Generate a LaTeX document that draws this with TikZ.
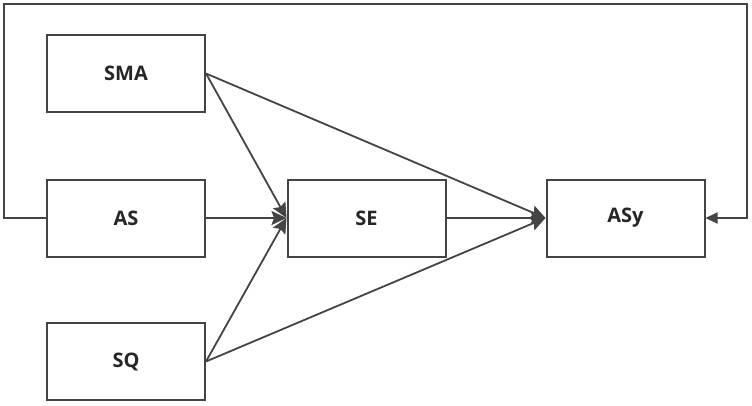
\documentclass[tikz,border=0pt]{standalone}
\usepackage{fontspec}
\setmainfont{Open Sans}
\usetikzlibrary{arrows.meta}
\definecolor{ln}{RGB}{68,68,68}
\begin{document}
\begin{tikzpicture}[x=1pt,y=-1pt,
  blk/.style={draw=ln,line width=2pt,fill=white,minimum width=158pt,minimum height=77pt,inner sep=0pt,font=\fontsize{20}{24}\selectfont\bfseries,text=black!85},
  conn/.style={draw=ln,line width=1.8pt,-{Stealth[length=15pt,width=14pt,inset=2.5pt]}},
  fb/.style={draw=ln,line width=2pt,-{Triangle[length=12pt,width=11pt]}}]
\useasboundingbox[fill=white] (0,0) rectangle (752,405);
\node[blk] (SMA) at (126,73.5) {SMA};
\node[blk] (AS) at (126,218) {AS};
\node[blk] (SQ) at (126,361.5) {SQ};
\node[blk] (SE) at (366.5,218) {SE};
\node[blk] (ASy) at (625.5,218) {ASy};
\coordinate (fbL) at (4,218);
\coordinate (fbR) at (747,4);
\draw[conn] (SMA.east) -- (SE.west);
\draw[conn] (AS.east) -- (SE.west);
\draw[conn] (SQ.east) -- (SE.west);
\draw[conn] (SMA.east) -- (ASy.west);
\draw[conn] (SE.east) -- (ASy.west);
\draw[conn] (SQ.east) -- (ASy.west);
\draw[fb] (AS.west) -- (fbL) |- (fbR) |- (ASy.east);
\end{tikzpicture}
\end{document}
